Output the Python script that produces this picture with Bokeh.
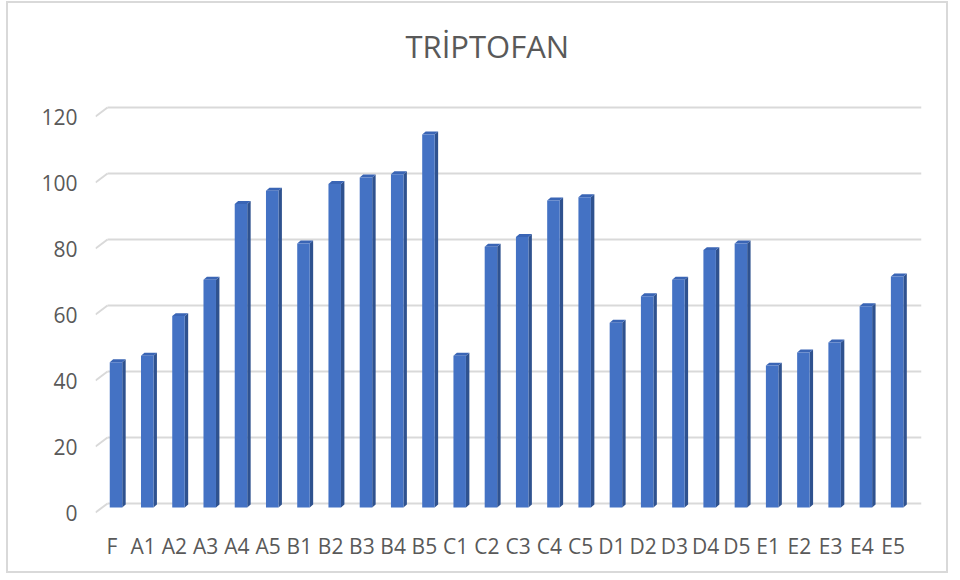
from bokeh.plotting import figure
from bokeh.models import Range1d, FixedTicker, Grid, ColumnDataSource, Title
from bokeh.embed import file_html
from bokeh.resources import INLINE

# ---- data ----
categories = ["F", "A1", "A2", "A3", "A4", "A5", "B1", "B2", "B3", "B4", "B5",
              "C1", "C2", "C3", "C4", "C5", "D1", "D2", "D3", "D4", "D5",
              "E1", "E2", "E3", "E4", "E5"]
values = [44, 46, 58, 69, 92, 96, 80, 98, 100, 101, 113,
          46, 79, 82, 93, 94, 56, 64, 69, 78, 80,
          43, 47, 50, 61, 70]
y_ticks = [0, 20, 40, 60, 80, 100, 120]
title_text = "TRİPTOFAN"

# ---- geometry / style ----
BAR_W = 0.40      # front face width (category units)
DEPTH_X = 0.11    # 3D depth offset (category units)
DEPTH_Y = 0.9     # 3D depth offset (value units)
BACK_DY = 1.21    # back wall offset (value units)
FRONT_DY = 1.52   # front plane offset (value units)
STUB_DX = 0.384   # floor/wall depth on the left (category units)
FRONT = "#4472C4"
SIDE = "#2F528F"
TOP = "#3A65B5"
TXT = "#595959"
GRID = "#D9D9D9"
FONT = "Open Sans"

wall_left, x_end = -0.272, 25.78
x_start = wall_left - STUB_DX
y_start, y_end = -2.42, 123.33

p = figure(width=942, height=572, output_backend="svg", toolbar_location=None,
           title=None,
           x_range=Range1d(x_start, x_end), y_range=Range1d(y_start, y_end),
           min_border_left=87, min_border_right=29, min_border_top=97, min_border_bottom=60,
           tools="")
p.styles = {"border": "2px solid #D9D9D9"}
p.margin = (1, 0, 0, 6)
p.background_fill_color = "white"
p.border_fill_color = "white"
p.outline_line_color = None

# ranges for back wall (gridlines) and front plane (labels)
p.extra_y_ranges = {"back": Range1d(y_start - BACK_DY, y_end - BACK_DY),
                    "front": Range1d(y_start + FRONT_DY, y_end + FRONT_DY)}
p.extra_x_ranges = {"front": Range1d(x_start + 0.13, x_end + 0.13)}

# hide default grids, add back-wall grid
for g in p.xgrid:
    g.visible = False
for g in p.ygrid:
    g.visible = False
back_grid = Grid(dimension=1, ticker=FixedTicker(ticks=y_ticks), y_range_name="back",
                 cross_bounds=(wall_left, x_end),
                 grid_line_color=GRID, grid_line_width=2)
p.add_layout(back_grid)

# slanted side-wall stubs joining front plane to back wall
p.segment(x0=[x_start] * len(y_ticks), y0=[t - FRONT_DY for t in y_ticks],
          x1=[wall_left] * len(y_ticks), y1=[t + BACK_DY for t in y_ticks],
          line_color=GRID, line_width=2, level="underlay")

# ---- bars (3D look) ----
idx = list(range(len(categories)))
side_xs, side_ys, top_xs, top_ys = [], [], [], []
for i, v in zip(idx, values):
    r = i + BAR_W / 2
    l = i - BAR_W / 2
    side_xs.append([r, r + DEPTH_X, r + DEPTH_X, r])
    side_ys.append([0, DEPTH_Y, v + DEPTH_Y, v])
    top_xs.append([l, l + DEPTH_X, r + DEPTH_X, r])
    top_ys.append([v, v + DEPTH_Y, v + DEPTH_Y, v])

p.patches(xs=side_xs, ys=side_ys, fill_color=SIDE, line_color=None)
p.patches(xs=top_xs, ys=top_ys, fill_color=TOP, line_color=None)
src = ColumnDataSource(dict(x=idx, top=values, cat=categories))
p.vbar(x="x", top="top", bottom=0, width=BAR_W, source=src, fill_color=FRONT, line_color=None)

# ---- axes ----
yax = p.yaxis[0]
yax.y_range_name = "front"
yax.ticker = FixedTicker(ticks=y_ticks)
yax.axis_line_color = None
yax.major_tick_line_color = None
yax.minor_tick_line_color = None
yax.major_tick_in = 0
yax.major_tick_out = 0
yax.minor_tick_out = 0
yax.major_label_standoff = 18
yax.major_label_text_font = FONT
yax.major_label_text_font_size = "21px"
yax.major_label_text_color = TXT

xax = p.xaxis[0]
xax.x_range_name = "front"
xax.ticker = FixedTicker(ticks=idx)
xax.major_label_overrides = {i: c for i, c in zip(idx, categories)}
xax.axis_line_color = None
xax.major_tick_line_color = None
xax.minor_tick_line_color = None
xax.major_tick_in = 0
xax.major_tick_out = 0
xax.minor_tick_out = 0
xax.major_label_standoff = 16
xax.major_label_text_font = FONT
xax.major_label_text_font_size = "21px"
xax.major_label_text_color = TXT

# ---- title (a blank spacer between it and the plot area) ----
spacer = Title(text=" ", text_font_size="10px", standoff=16, text_color="white")
main_title = Title(text=title_text, align="left", vertical_align="bottom",
                   offset=310, standoff=10, text_font=FONT, text_font_size="31px",
                   text_font_style="normal", text_color=TXT)
p.add_layout(spacer, "above")
p.add_layout(main_title, "above")

open("out.html", "w").write(file_html(p, INLINE))
